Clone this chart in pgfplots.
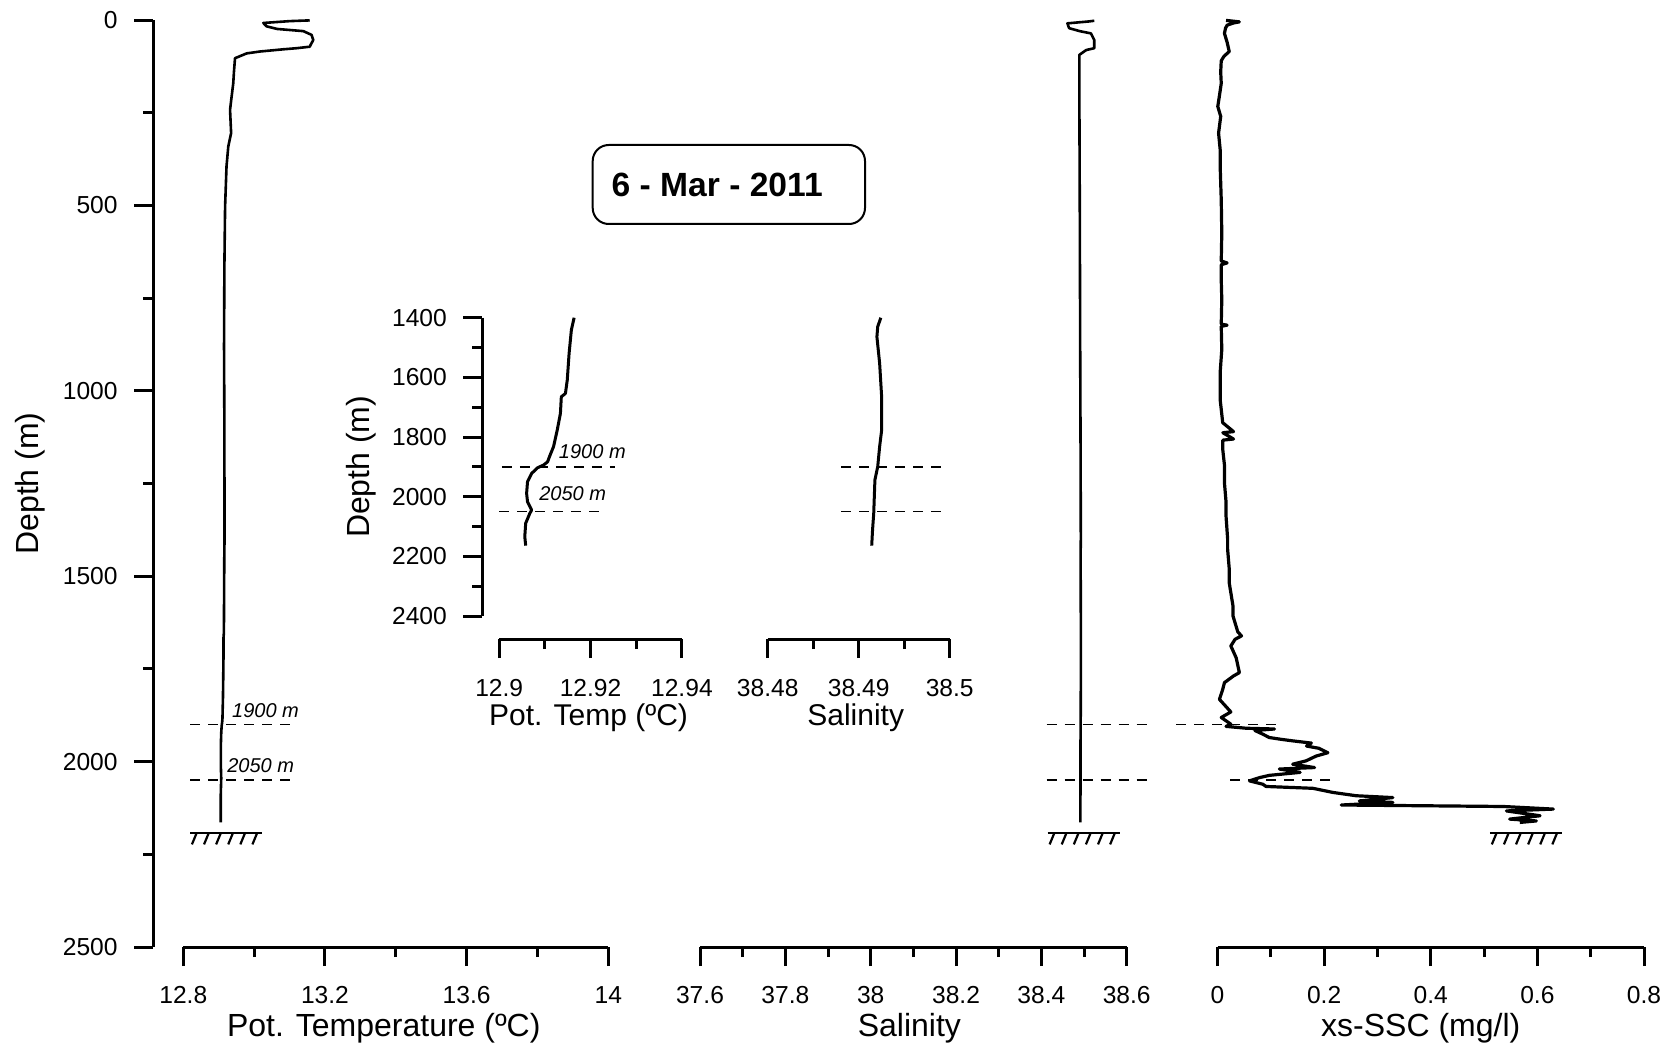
\documentclass[border=0pt]{standalone}
\usepackage{fontspec}
\setmainfont{Liberation Sans}
\usepackage{pgfplots}
\usepackage{pgfplotstable}
\usetikzlibrary{calc}
\pgfplotsset{compat=1.18}

% Potential temperature profile (degC, m)
\pgfplotstableread{
T d
13.157 1
13.100 3
13.026 8
13.035 17
13.064 24
13.139 30
13.162 40
13.167 54
13.160 66
13.157 72
13.120 76
13.082 79
13.016 85
12.979 90
12.946 103
12.943 140
12.941 171
12.936 210
12.932 242
12.935 305
12.927 341
12.922 395
12.918 503
12.916 665
12.915 880
12.916 1100
12.9164 1400
12.9158 1441
12.9153 1520
12.9149 1609
12.9145 1654
12.9136 1665
12.9134 1721
12.9127 1777
12.9119 1832
12.9110 1866
12.9106 1883
12.9097 1894
12.9084 1903
12.9071 1922
12.9062 1950
12.9060 1989
12.9062 2017
12.9071 2045
12.9067 2056
12.9058 2089
12.9056 2134
12.9058 2164
}\temp

% Salinity profile
\pgfplotstableread{
S d
38.524 2
38.510 4
38.461 9
38.465 22
38.490 30
38.516 36
38.524 54
38.524 76
38.505 81
38.489 94
38.489 200
38.490 500
38.491 900
38.4920 1200
38.49243 1400
38.49209 1430
38.49200 1464
38.49230 1553
38.49252 1665
38.49252 1777
38.49230 1832
38.49209 1899
38.49178 1944
38.49165 2056
38.49152 2112
38.49143 2164
}\sal

% Excess suspended sediment concentration (mg/l)
\pgfplotstableread{
C d
0.016 1
0.041 5
0.030 8
0.018 14
0.015 22
0.013 36
0.018 60
0.022 85
0.012 98
0.007 110
0.006 140
0.007 171
0.003 210
0.0005 233
0.006 260
0.002 305
0.005 350
0.005 395
0.007 485
0.008 575
0.007 650
0.018 655
0.007 660
0.007 700
0.008 754
0.007 820
0.018 823
0.007 826
0.008 889
0.005 950
0.005 1024
0.0098 1086
0.030 1110
0.010 1113
0.030 1130
0.010 1133
0.0098 1158
0.013 1200
0.013 1248
0.016 1300
0.016 1338
0.019 1400
0.019 1428
0.022 1480
0.022 1518
0.029 1580
0.029 1607
0.038 1650
0.045 1661
0.033 1670
0.025 1688
0.035 1720
0.041 1760
0.030 1769
0.013 1787
0.0098 1805
0.0036 1832
0.025 1866
0.007 1881
0.025 1899
0.016 1905
0.054 1910
0.107 1912
0.070 1916
0.085 1926
0.097 1935
0.120 1940
0.141 1944
0.176 1950
0.167 1958
0.190 1964
0.207 1976
0.185 1985
0.166 1998
0.141 2007
0.182 2016
0.116 2020
0.155 2029
0.0975 2037
0.079 2043
0.060 2052
0.085 2061
0.091 2067
0.179 2072
0.216 2083
0.260 2092
0.329 2097
0.266 2106
0.329 2110
0.232 2117
0.536 2121
0.630 2128
0.542 2133
0.605 2146
0.548 2155
0.598 2160
0.567 2164
}\ssc

\pgfplotsset{
  profile/.style={
    scale only axis, clip=false, y dir=reverse,
    axis line style={line width=1.5pt},
    every tick/.append style={line width=1.5pt, black},
    every major tick/.append style={line width=1.5pt, black},
    every minor tick/.append style={line width=1.5pt, black},
    major tick length=9.5pt, minor tick length=5pt,
    tick label style={font=\fontsize{12.3}{14}\selectfont},
    label style={font=\fontsize{16}{19}\selectfont},
  },
  xprof/.style={profile, axis x line*=bottom, axis y line=none,
    tick align=outside,
    xticklabel style={anchor=center, inner sep=0pt, yshift=-14.5pt},
    xlabel style={at={(axis description cs:0.5,0)}, anchor=center, yshift=-40.5pt},
    ymin=0, ymax=2500, height=463.5pt},
  yprof/.style={profile, axis y line*=left, axis x line=none,
    tick align=outside, xmin=0, xmax=1,
    yticklabel style={anchor=east, inner sep=0pt, xshift=-8pt},
    ylabel style={anchor=center}},
  profline/.style={black, line width=1.3pt, line join=round, mark=none},
  dashline/.style={black, line width=0.8pt, dash pattern=on 5pt off 4pt, forget plot},
}
\tikzset{depthlab/.style={font=\itshape\fontsize{10}{12}\selectfont, inner sep=0pt}}

% sea-floor mark: a bar with six slanted hatches, starting at a named point
\newcommand\seabed[1]{%
  \draw[line width=1.3pt] (#1) -- ++(36pt,0);
  \foreach \k in {0,...,5}
    \draw[line width=1.1pt] ($(#1)+(3.35pt+6.05pt*\k,0)$) -- ++(-2.4pt,-5.8pt);
}

\begin{document}
\begin{tikzpicture}
\useasboundingbox (0,0) rectangle (837pt,528.5pt);

% depth axis of the full profiles
\begin{axis}[yprof, at={(76.5pt,55pt)}, anchor=south west,
  width=15pt, height=463.5pt, ymin=0, ymax=2500,
  ytick={0,500,1000,1500,2000,2500}, minor ytick={250,750,1250,1750,2250},
  yticklabels={0,500,1000,1500,2000,2500},
  ylabel={Depth (m)}, ylabel style={at={(axis description cs:-4.1,0.5)}}]
\end{axis}

% potential temperature
\begin{axis}[xprof, at={(91.65pt,55pt)}, anchor=south west, width=212.5pt,
  xmin=12.8, xmax=14, xtick={12.8,13.2,13.6,14}, minor xtick={13.0,13.4,13.8},
  xticklabels={12.8,13.2,13.6,14},
  xlabel={Pot. Temperature (ºC)}, xlabel style={xshift=-6pt}]
\addplot[profline] table[x=T, y=d] {\temp};
\addplot[dashline] coordinates {(12.819,1900) (13.106,1900)};
\addplot[dashline] coordinates {(12.819,2050) (13.106,2050)};
\node[depthlab, anchor=west] at (axis cs:12.937,1863) {1900 m};
\node[depthlab, anchor=west] at (axis cs:12.923,2010) {2050 m};
\coordinate (bedT) at (axis cs:12.819,2192);
\end{axis}
\seabed{bedT}

% salinity
\begin{axis}[xprof, at={(350pt,55pt)}, anchor=south west, width=213.35pt,
  xmin=37.6, xmax=38.6, xtick={37.6,37.8,38,38.2,38.4,38.6},
  minor xtick={37.7,37.9,38.1,38.3,38.5},
  xticklabels={37.6,37.8,38,38.2,38.4,38.6},
  xlabel={Salinity}, xlabel style={xshift=-2pt}]
\addplot[profline] table[x=S, y=d] {\sal};
\addplot[dashline] coordinates {(38.4125,1900) (38.6506,1900)};
\addplot[dashline] coordinates {(38.4125,2050) (38.6506,2050)};
\coordinate (bedS) at (axis cs:38.4149,2192);
\end{axis}
\seabed{bedS}

% excess suspended sediment concentration
\begin{axis}[xprof, at={(608.75pt,55pt)}, anchor=south west, width=213.25pt,
  xmin=0, xmax=0.8, xtick={0,0.2,0.4,0.6,0.8}, minor xtick={0.1,0.3,0.5,0.7},
  xticklabels={0,0.2,0.4,0.6,0.8},
  xlabel={xs-SSC (mg/l)}, xlabel style={xshift=-5pt}]
\addplot[dashline] coordinates {(-0.077,1900) (0.111,1900)};
\addplot[dashline] coordinates {(0.0235,2050) (0.214,2050)};
\addplot[profline, line width=1.6pt] table[x=C, y=d] {\ssc};
\coordinate (bedC) at (axis cs:0.511,2192);
\end{axis}
\seabed{bedC}

% inset: depth axis 1400-2400 m
\begin{axis}[yprof, at={(241.1pt,220.5pt)}, anchor=south west,
  width=10pt, height=149.15pt, ymin=1400, ymax=2400,
  ytick={1400,1600,1800,2000,2200,2400}, minor ytick={1500,1700,1900,2100,2300},
  yticklabels={1400,1600,1800,2000,2200,2400},
  ylabel={Depth (m)}, ylabel style={at={(axis description cs:-6.03,0.5)}}]
\end{axis}

% inset: potential temperature
\begin{axis}[xprof, at={(249.6pt,209pt)}, anchor=south west,
  width=91.35pt, height=160.65pt, ymin=1400, ymax=2477.1,
  xmin=12.9, xmax=12.94, xtick={12.9,12.92,12.94}, minor xtick={12.91,12.93},
  xticklabels={12.9,12.92,12.94},
  xticklabel style={yshift=-0.5pt},
  xlabel={Pot. Temp (ºC)},
  xlabel style={font=\fontsize{15}{18}\selectfont, yshift=1pt, xshift=-1pt}]
\addplot[profline, line width=1.5pt, restrict y to domain=1400:2300] table[x=T, y=d] {\temp};
\addplot[dashline] coordinates {(12.9006,1900) (12.9253,1900)};
\addplot[dashline] coordinates {(12.9,2050) (12.9218,2050)};
\node[depthlab, anchor=west] at (axis cs:12.913,1849) {1900 m};
\node[depthlab, anchor=west] at (axis cs:12.9087,1990) {2050 m};
\end{axis}

% inset: salinity
\begin{axis}[xprof, at={(383.85pt,209pt)}, anchor=south west,
  width=91pt, height=160.65pt, ymin=1400, ymax=2477.1,
  xmin=38.48, xmax=38.5, xtick={38.48,38.49,38.5}, minor xtick={38.485,38.495},
  xticklabels={38.48,38.49,38.5},
  xticklabel style={yshift=-0.5pt},
  xlabel={Salinity},
  xlabel style={font=\fontsize{15}{18}\selectfont, yshift=1pt, xshift=-1.5pt}]
\addplot[profline, line width=1.5pt, restrict y to domain=1400:2300] table[x=S, y=d] {\sal};
\addplot[dashline] coordinates {(38.4881,1900) (38.4995,1900)};
\addplot[dashline] coordinates {(38.4881,2050) (38.4995,2050)};
\end{axis}

% date tag
\draw[line width=1pt, rounded corners=8pt] (296.35pt,416.5pt) rectangle (432.5pt,456pt);
\node[font=\bfseries\fontsize{16.8}{20}\selectfont] at (358.6pt,436.25pt) {6 - Mar - 2011};
\end{tikzpicture}
\end{document}
